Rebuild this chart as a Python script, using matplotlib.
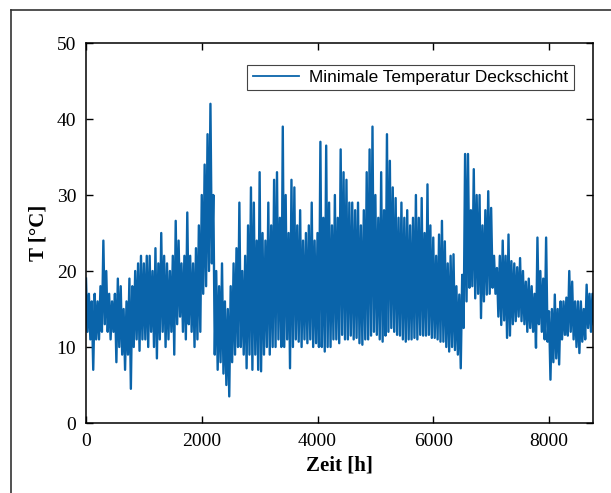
import matplotlib
matplotlib.use("Agg")

import matplotlib.pyplot as plt
import numpy as np
from matplotlib.lines import Line2D

# hourly minimum temperature of the top layer, read off as envelope per 50 h block:
# peak value at the start of each block, trough value half a block later
step_h = 50
temp_hi = [
    19, 17, 16, 17, 16, 18, 24, 20, 17, 16,
    17, 19, 18, 15, 16, 19, 18, 20, 21, 22,
    21, 22, 22, 20, 23, 21, 25, 22, 21, 20,
    22, 26.6, 24, 21, 22, 27.7, 22, 21, 23, 26,
    30, 34, 38, 42, 30, 20, 18, 21, 16, 15,
    18, 21, 23, 29, 20, 22, 26, 31, 29, 24,
    33, 25, 24, 29, 26, 32, 33, 27, 39, 30,
    25, 32, 31, 26, 28, 24, 25, 26, 29, 24,
    25, 37, 27, 36.5, 29, 26, 30, 27, 36, 33,
    32, 29, 29, 28, 29, 26, 28, 33, 36, 39,
    30, 27, 33, 28, 38, 34.5, 31, 29.6, 27, 29,
    27, 28, 26, 27, 30, 27, 29.6, 25, 31.4, 26,
    24.4, 22, 24.8, 26.6, 23.9, 21, 22, 22.2, 18, 16.9,
    19.5, 35.4, 35.4, 28, 33.4, 30, 30, 26, 28, 30.5,
    28.3, 22, 20.4, 22, 24, 22, 24.8, 21.3, 21, 20.5,
    21.7, 20, 18.6, 19, 18, 17, 24.4, 20, 19, 24.4,
    14.7, 15, 16.9, 15, 16, 16, 16.5, 20, 18.6, 16,
    16, 16, 15, 18.2, 17, 17,
]
temp_lo = [
    12, 11, 7, 11, 11, 12, 13, 12, 11, 12,
    8, 10, 9, 7, 9, 4.5, 10, 11, 9.5, 11,
    11, 10, 12, 10, 8.5, 11, 12, 10, 11, 12,
    9, 13, 14, 12, 11, 13, 12, 10, 11, 12,
    17, 18, 20, 21, 9, 7, 8, 6.5, 5, 3.5,
    8, 9, 10, 10, 9, 7.2, 9, 7, 9, 7,
    6.8, 9, 10, 9, 10, 10, 11, 10, 10, 11,
    7.2, 10, 11, 10.7, 10, 11, 10.5, 11, 10, 10.5,
    10, 10, 9.4, 10, 10, 11, 11, 10.5, 11.6, 11,
    11, 11.5, 11, 11.2, 10.5, 10.3, 11, 11, 11.5, 12,
    11.6, 11, 10.7, 11.5, 12, 12.5, 12, 11.6, 11.5, 11,
    10.7, 11, 11, 11.2, 11, 11.6, 11.5, 11.5, 11.6, 11.2,
    11.2, 11, 10.7, 10.7, 10, 9.4, 10, 9.6, 9, 7.2,
    12.5, 16, 17.8, 18, 16.4, 17, 13.8, 16, 16.9, 17,
    17.8, 17, 14, 12.9, 13.5, 11.2, 11.5, 13, 13.4, 14,
    13.4, 13, 12, 12.5, 12, 9.9, 13, 12, 11, 10.7,
    5.7, 8, 8.5, 7.7, 11, 11.6, 11.5, 12, 11, 10,
    9.2, 10.7, 11, 12.5, 12, 13,
]
series_label = "Minimale Temperatur Deckschicht"
x_ticks = [0, 2000, 4000, 6000, 8000]
y_ticks = [0, 10, 20, 30, 40, 50]

serif = "Liberation Serif"
sans = "Liberation Sans"

hours = np.arange(len(temp_hi)) * step_h
t = np.empty(2 * len(hours))
t[0::2] = hours
t[1::2] = hours + step_h / 2
temp = np.empty(2 * len(hours))
temp[0::2] = temp_hi
temp[1::2] = temp_lo

fig = plt.figure(figsize=(6.11, 4.93), dpi=100)
ax = fig.add_axes([86 / 611, 1 - 423 / 493, (593 - 86) / 611, (423 - 43) / 493])

ax.plot(t, temp, color="#0a64aa", lw=1.7, label=series_label)

ax.set_xlim(0, 8760)
ax.set_ylim(0, 50)
ax.set_xticks(x_ticks)
ax.set_yticks(y_ticks)
ax.tick_params(direction="in", length=5, width=1, top=True, right=True,
               labelsize=14, pad=7)
for lab in ax.get_xticklabels() + ax.get_yticklabels():
    lab.set_fontfamily(serif)
for spine in ax.spines.values():
    spine.set_linewidth(1.1)

ax.set_xlabel("Zeit [h]", fontfamily=serif, fontweight="bold", fontsize=15, labelpad=4)
ax.set_ylabel("T [°C]", fontfamily=serif, fontweight="bold", fontsize=15, labelpad=6)

leg = ax.legend(loc="upper right", bbox_to_anchor=(0.962, 0.942), fancybox=False,
                framealpha=1, edgecolor="#444444", handlelength=2.7,
                borderpad=0.3, handletextpad=0.6, borderaxespad=0,
                prop={"family": sans, "size": 12.4})
leg.get_frame().set_linewidth(0.8)
for handle in leg.legend_handles:
    handle.set_linewidth(1.3)

# outer frame of the figure (left and top edges visible)
fig.add_artist(Line2D([11 / 611, 11 / 611], [0, 1 - 10 / 493], color="#333333", lw=1.2))
fig.add_artist(Line2D([11 / 611, 1], [1 - 10 / 493, 1 - 10 / 493], color="#333333", lw=1.2))

fig.savefig("out.png", dpi=100)
plt.close(fig)
